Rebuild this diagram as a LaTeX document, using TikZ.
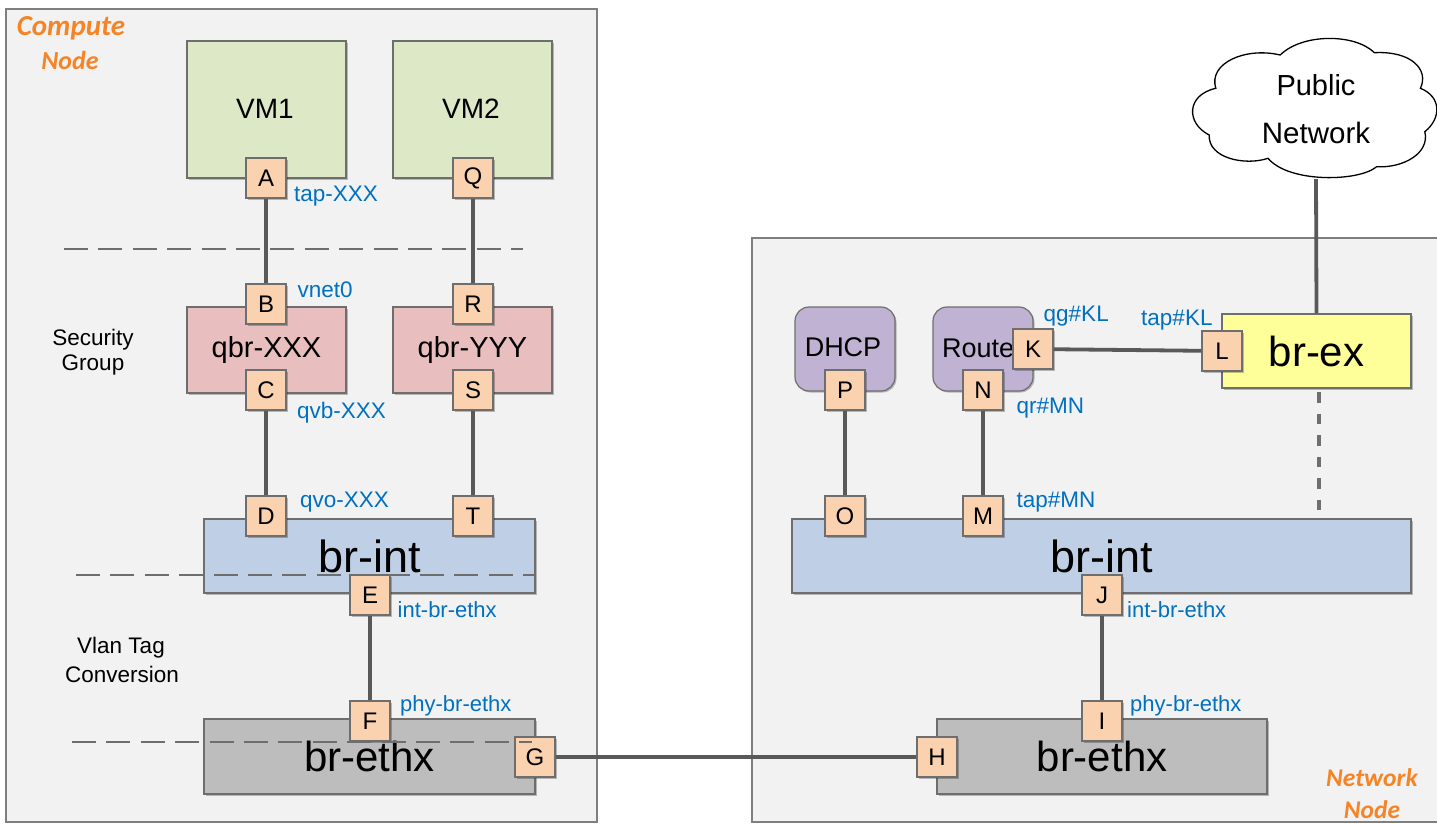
\documentclass[tikz,border=0pt]{standalone}
\usepackage{fontspec}
\setmainfont{Liberation Sans}
\newfontfamily\orangefont{Carlito}
\usetikzlibrary{shadows}
\definecolor{panelfill}{HTML}{F2F2F2}
\definecolor{panelline}{HTML}{7F7F7F}
\definecolor{boxline}{HTML}{6E6E6E}
\definecolor{vmfill}{HTML}{DDE8C6}
\definecolor{qbrfill}{HTML}{E8BEBE}
\definecolor{intfill}{HTML}{BFD0E6}
\definecolor{ethfill}{HTML}{BDBDBD}
\definecolor{portfill}{HTML}{FBD2AF}
\definecolor{purplefill}{HTML}{C0B2D2}
\definecolor{yellowfill}{HTML}{FFFF99}
\definecolor{labelblue}{HTML}{0070C0}
\definecolor{nodeorange}{HTML}{F58426}
\definecolor{wire}{HTML}{595959}
\newcommand{\fs}[1]{\fontsize{#1}{#1}\selectfont}
\tikzset{
  softshadow/.style={drop shadow={shadow xshift=1.5pt,shadow yshift=-1.5pt,opacity=.25,fill=black}},
  panel/.style={draw=panelline,fill=panelfill,line width=1.3pt,inner sep=0pt},
  boxbase/.style={draw=boxline,line width=1.2pt,inner sep=0pt,softshadow,text=black},
  vmbox/.style={boxbase,fill=vmfill,minimum width=159pt,minimum height=137pt,font=\fs{28}},
  qbrbox/.style={boxbase,fill=qbrfill,minimum width=159pt,minimum height=86pt,font=\fs{29}},
  intbox/.style={boxbase,fill=intfill,minimum height=74pt,font=\fs{45}},
  ethbox/.style={boxbase,fill=ethfill,minimum height=75pt,font=\fs{42}},
  svcbox/.style={boxbase,fill=purplefill,rounded corners=14pt,minimum width=100pt,minimum height=84pt,font=\fs{27}},
  exbox/.style={boxbase,fill=yellowfill,minimum width=189pt,minimum height=74pt,font=\fs{42}},
  port/.style={boxbase,fill=portfill,minimum width=40pt,minimum height=40pt,font=\fs{24}},
  blue/.style={text=labelblue,font=\fs{22.5},inner sep=0pt,anchor=base west},
  plain/.style={text=black,font=\fs{22.5},inner sep=0pt,align=center},
  orangetxt/.style={text=nodeorange,font=\orangefont\bfseries\itshape\fs{26},inner sep=0pt},
  wireline/.style={draw=wire,line width=3.8pt},
  longdash/.style={draw=boxline,line width=2pt,dash pattern=on 24pt off 10.4pt},
  shortdash/.style={draw=boxline,line width=3.8pt,dash pattern=on 10.7pt off 10.8pt},
}
\begin{document}
\begin{tikzpicture}[x=1pt,y=-1pt]
\useasboundingbox (0,0) rectangle (1437,823);
% panels
\node[panel,minimum width=591pt,minimum height=813pt] (compute) at (301.5,415.5) {};
\node[panel,minimum width=700pt,minimum height=584pt] (network) at (1102,530) {};
\node[orangetxt,font=\orangefont\bfseries\itshape\fs{29}] (t1) at (71,28) {Compute};
\node[orangetxt] (t2) at (70,60) {Node};
\node[orangetxt,font=\orangefont\bfseries\itshape\fs{25.5}] (t3) at (1372,778) {Network};
\node[orangetxt,font=\orangefont\bfseries\itshape\fs{25.5}] (t4) at (1372,810) {Node};
% compute node boxes
\node[vmbox] (vm1) at (266.5,109.5) {\raisebox{2pt}{VM1\hspace*{3pt}}};
\node[vmbox] (vm2) at (472.5,109.5) {\raisebox{2pt}{VM2\hspace*{3pt}}};
\node[qbrbox] (qx) at (266.5,350) {qbr-XXX};
\node[qbrbox] (qy) at (472.5,350) {qbr-YYY};
\node[intbox,minimum width=331pt] (bi1) at (369.5,556) {br-int};
\node[ethbox,minimum width=331pt] (be1) at (369.5,756.5) {br-ethx};
% network node boxes
\node[svcbox] (dhcp) at (845,349) {\raisebox{3pt}{DHCP\hspace*{4pt}}};
\node[svcbox] (route) at (983,349) {};
\node[anchor=west,inner sep=0pt,font=\fs{27}] (routetxt) at (942,348) {Route};
\node[exbox] (brex) at (1316.5,351) {br-ex};
\node[intbox,minimum width=619pt] (bi2) at (1101.5,556) {br-int};
\node[ethbox,minimum width=330pt] (be2) at (1102,756.5) {br-ethx};
% cloud
\draw[draw=black,line width=1.3pt,fill=white]
  (1280.2,55) .. controls (1302.1,33.3) and (1354.7,33.3) .. (1374.4,52.7)
  .. controls (1411.7,50.7) and (1429.2,70) .. (1420.4,88.3)
  .. controls (1441.5,96.7) and (1441.5,118.3) .. (1424.8,131.7)
  .. controls (1430.1,153.3) and (1402.9,168.3) .. (1376.6,166.7)
  .. controls (1359.1,181.7) and (1289,183.3) .. (1268,158.3)
  .. controls (1245.2,166) and (1207.9,158.3) .. (1209.2,135)
  .. controls (1186,123.3) and (1186,95) .. (1215.8,88.3)
  .. controls (1207.9,63.3) and (1245.2,46.7) .. (1280.2,55) -- cycle;
\node[plain,minimum width=200pt,minimum height=141pt] (cloud) at (1316,108.5) {};
\node[inner sep=0pt,font=\fs{29}] (pub) at (1316,85) {Public};
\node[inner sep=0pt,font=\fs{29.5}] (net) at (1316,133) {Network};
% ports
\node[port] (A) at (266,178) {A};
\node[port] (B) at (266,304) {B};
\node[port] (C) at (266,390) {C};
\node[port] (D) at (266,516) {D};
\node[port] (E) at (370,595) {E};
\node[port] (F) at (370,721) {F};
\node[port] (G) at (535,757) {G};
\node[port] (Q) at (473,178) {Q};
\node[port] (R) at (473,304) {R};
\node[port] (S) at (473,390) {S};
\node[port] (T) at (473,516) {T};
\node[port] (H) at (937,757) {H};
\node[port] (I) at (1102,721) {I};
\node[port] (J) at (1102,595) {J};
\node[port] (K) at (1033,349) {K};
\node[port] (L) at (1222,351) {L};
\node[port] (M) at (983,516) {M};
\node[port] (N) at (983,390) {N};
\node[port] (O) at (845,516) {O};
\node[port] (P) at (845,390) {P};
% connectors
\draw[wireline] (A) -- (B);
\draw[wireline] (C) -- (D);
\draw[wireline] (Q) -- (R);
\draw[wireline] (S) -- (T);
\draw[wireline] (E) -- (F);
\draw[wireline] (I) -- (J);
\draw[wireline] (P) -- (O);
\draw[wireline] (N) -- (M);
\draw[wireline] (K) -- (L);
\draw[wireline,line width=4.5pt] (G) -- (H);
\draw[wireline] (cloud.south) -- (brex.north);
% dashed lines
\coordinate (d1a) at (64,249); \coordinate (d1b) at (523,249);
\coordinate (d2a) at (76,574.5); \coordinate (d2b) at (535,574.5);
\coordinate (d3a) at (72,742); \coordinate (d3b) at (532,742);
\coordinate (d4a) at (1319,392); \coordinate (d4b) at (1319,510);
\draw[longdash] (d1a) -- (d1b);
\draw[longdash] (d2a) -- (d2b);
\draw[longdash] (d3a) -- (d3b);
\draw[shortdash] (d4a) -- (d4b);
% port labels
\node[blue] (l1) at (294,201) {tap-XXX};
\node[blue] (l2) at (297.5,297) {vnet0};
\node[blue] (l3) at (297,418) {qvb-XXX};
\node[blue] (l4) at (300,507.5) {qvo-XXX};
\node[blue,font=\fs{22}] (l5) at (397.5,617) {int-br-ethx};
\node[blue,font=\fs{22}] (l6) at (400,711) {phy-br-ethx};
\node[blue] (l7) at (1043.5,321) {qg\#KL};
\node[blue] (l8) at (1141,325.5) {tap\#KL};
\node[blue] (l9) at (1016.5,413) {qr\#MN};
\node[blue] (l10) at (1016.5,507) {tap\#MN};
\node[blue,font=\fs{22}] (l11) at (1127,617) {int-br-ethx};
\node[blue,font=\fs{22}] (l12) at (1130,711) {phy-br-ethx};
% side notes
\node[plain] (sg1) at (93,340) {Security};
\node[plain] (sg2) at (93,365) {Group};
\node[plain] (vl1) at (121,648) {Vlan Tag};
\node[plain] (vl2) at (122,674) {Conversion};
\end{tikzpicture}
\end{document}
